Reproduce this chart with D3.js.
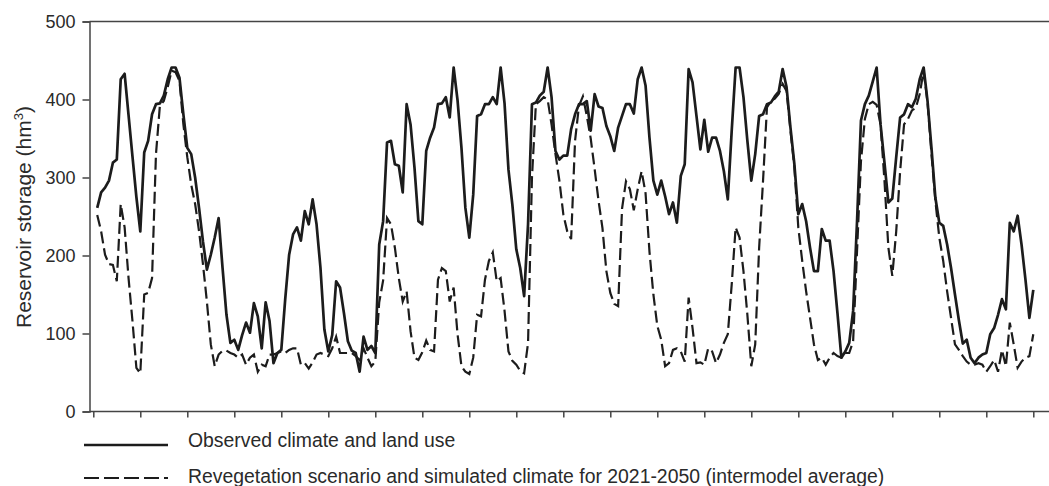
<!DOCTYPE html>
<html>
<head>
  <meta charset="utf-8">
  <title>Reservoir storage</title>
  <script src="https://d3js.org/d3.v7.min.js"></script>
  <style>
    body { margin: 0; background: #fff; font-family: Arial, "Liberation Sans", sans-serif; }
  </style>
</head>
<body>
<div id="chart"></div>
<script>
var width = 1049;
var height = 486;

// ----- Data (monthly storage, hm3; month 1..240) -----

var yTicks = [0, 100, 200, 300, 400, 500];
var xTickMonths = d3.range(0, 241, 12);   // unlabelled year ticks

var observed = [
  261, 281, 287, 296, 319, 323, 426, 433, 380, 327, 275, 231,
  332, 347, 381, 394, 395, 405, 426, 441, 441, 428, 381, 338,
  330, 300, 261, 218, 182, 201, 223, 248, 184, 124, 88, 92,
  79, 98, 114, 101, 139, 122, 81, 140, 116, 62, 75, 79,
  144, 201, 227, 236, 219, 257, 240, 272, 240, 184, 105, 77,
  98, 167, 159, 126, 90, 78, 75, 51, 96, 79, 84, 75,
  214, 244, 345, 347, 317, 315, 281, 394, 368, 313, 244, 240,
  334, 351, 364, 394, 395, 403, 377, 441, 399, 338, 261, 223,
  278, 379, 381, 394, 394, 403, 394, 441, 395, 310, 265, 208,
  184, 148, 240, 394, 396, 405, 410, 441, 403, 334, 323, 328,
  328, 362, 381, 394, 394, 398, 360, 407, 391, 389, 366, 353,
  334, 364, 379, 394, 394, 382, 426, 441, 418, 351, 296, 278,
  296, 276, 253, 268, 242, 302, 317, 439, 422, 379, 336, 374,
  333, 351, 351, 334, 308, 272, 360, 441, 441, 403, 347, 296,
  330, 379, 381, 394, 396, 404, 410, 439, 416, 364, 317, 253,
  266, 244, 210, 180, 180, 234, 219, 219, 180, 126, 69, 77,
  88, 129, 244, 373, 394, 405, 423, 441, 368, 319, 268, 273,
  326, 377, 381, 394, 390, 401, 426, 441, 398, 338, 274, 242,
  238, 214, 184, 150, 117, 87, 92, 69, 62, 69, 73, 75,
  99, 107, 124, 144, 131, 242, 231, 251, 214, 169, 120, 156
];

var revegetation = [
  252, 231, 201, 189, 188, 167, 266, 236, 171, 116, 56, 49,
  150, 152, 171, 330, 392, 398, 416, 437, 435, 424, 368, 326,
  291, 266, 231, 189, 141, 86, 58, 73, 78, 78, 75, 73,
  69, 73, 60, 69, 73, 51, 60, 58, 73, 73, 75, 77,
  75, 79, 81, 81, 60, 62, 55, 63, 73, 75, 73, 71,
  81, 96, 75, 75, 75, 75, 71, 66, 81, 69, 58, 64,
  140, 168, 248, 240, 210, 171, 141, 154, 103, 69, 66, 76,
  91, 79, 77, 169, 184, 180, 141, 159, 99, 58, 51, 48,
  69, 124, 122, 169, 193, 204, 167, 171, 129, 77, 65, 60,
  52, 49, 88, 300, 394, 398, 403, 400, 368, 330, 296, 253,
  231, 221, 347, 392, 404, 379, 350, 311, 270, 235, 180, 152,
  138, 135, 260, 295, 285, 258, 285, 308, 280, 205, 150, 110,
  92, 58, 62, 79, 81, 77, 64, 146, 107, 62, 63, 60,
  81, 77, 62, 73, 88, 99, 163, 236, 223, 180, 124, 58,
  86, 210, 296, 390, 398, 401, 407, 420, 411, 360, 313, 236,
  193, 154, 120, 86, 66, 69, 60, 69, 75, 71, 69, 75,
  75, 90, 206, 321, 375, 394, 397, 393, 368, 296, 210, 174,
  231, 308, 368, 375, 386, 389, 407, 437, 396, 330, 270, 223,
  193, 154, 120, 86, 79, 71, 64, 60, 60, 62, 60, 51,
  58, 66, 51, 79, 58, 114, 86, 56, 64, 69, 71, 99
];

var legendLabels = [
  'Observed climate and land use',
  'Revegetation scenario and simulated climate for 2021-2050 (intermodel average)'
];

// ----- Setup -----

var svg = d3.select('#chart')
  .append('svg')
  .attr('width', width)
  .attr('height', height);

var x = d3.scaleLinear().domain([0, 240]).range([93.3, 1033.3]);
var y = d3.scaleLinear().domain([0, 500]).range([411.5, 21.5]);

var axisColor = '#444';
var lineColor = '#1c1c1c';
var textColor = '#2a2a2a';

// frame: top border and bottom baseline run to the right edge
svg.append('line')
  .attr('x1', 89.5).attr('x2', width)
  .attr('y1', y(500)).attr('y2', y(500))
  .attr('stroke', axisColor).attr('stroke-width', 1.5);
svg.append('line')
  .attr('x1', 89.5).attr('x2', width)
  .attr('y1', y(0)).attr('y2', y(0))
  .attr('stroke', axisColor).attr('stroke-width', 1.5);

// y axis
var yAxis = svg.append('g')
  .attr('transform', 'translate(89.5,0)')
  .call(d3.axisLeft(y).tickValues(yTicks).tickSize(7).tickPadding(7));
yAxis.select('.domain').attr('stroke', axisColor).attr('stroke-width', 1.5);
yAxis.selectAll('.tick line').attr('stroke', axisColor).attr('stroke-width', 1.5);
yAxis.selectAll('.tick text')
  .attr('fill', textColor)
  .style('font-family', 'Arial, "Liberation Sans", sans-serif')
  .style('font-size', '18px');

// x axis ticks (no labels)
var xAxis = svg.append('g')
  .attr('transform', 'translate(0,' + y(0) + ')')
  .call(d3.axisBottom(x).tickValues(xTickMonths).tickSize(6).tickFormat(''));
xAxis.select('.domain').remove();
xAxis.selectAll('.tick line').attr('stroke', axisColor).attr('stroke-width', 1.5);

// y title
svg.append('text')
  .attr('transform', 'translate(31,217) rotate(-90)')
  .attr('text-anchor', 'middle')
  .attr('fill', textColor)
  .style('font-size', '21px')
  .text('Reservoir storage (hm')
  .call(function (t) {
    t.append('tspan').attr('dy', -8).style('font-size', '13px').text('3');
    t.append('tspan').attr('dy', 8).text(')');
  });

// ----- Series -----

var line = d3.line()
  .x(function (d, i) { return x(i + 1); })
  .y(function (d) { return y(d); });

svg.append('path')
  .datum(revegetation)
  .attr('d', line)
  .attr('fill', 'none')
  .attr('stroke', lineColor)
  .attr('stroke-width', 2.2)
  .attr('stroke-dasharray', '12,5');

svg.append('path')
  .datum(observed)
  .attr('d', line)
  .attr('fill', 'none')
  .attr('stroke', lineColor)
  .attr('stroke-width', 2.7)
  .attr('stroke-linejoin', 'round');

// ----- Legend -----

var legendY = [445, 478];
var legendBase = [447, 482.5];
var legendDash = [null, '15,5'];

legendLabels.forEach(function (label, i) {
  svg.append('line')
    .attr('x1', 84).attr('x2', 168)
    .attr('y1', legendY[i]).attr('y2', legendY[i])
    .attr('stroke', lineColor)
    .attr('stroke-width', i === 0 ? 2.7 : 2.2)
    .attr('stroke-dasharray', legendDash[i]);
  svg.append('text')
    .attr('x', 188)
    .attr('y', legendBase[i])
    .attr('fill', textColor)
    .style('font-size', '19.4px')
    .text(label);
});
</script>
</body>
</html>
